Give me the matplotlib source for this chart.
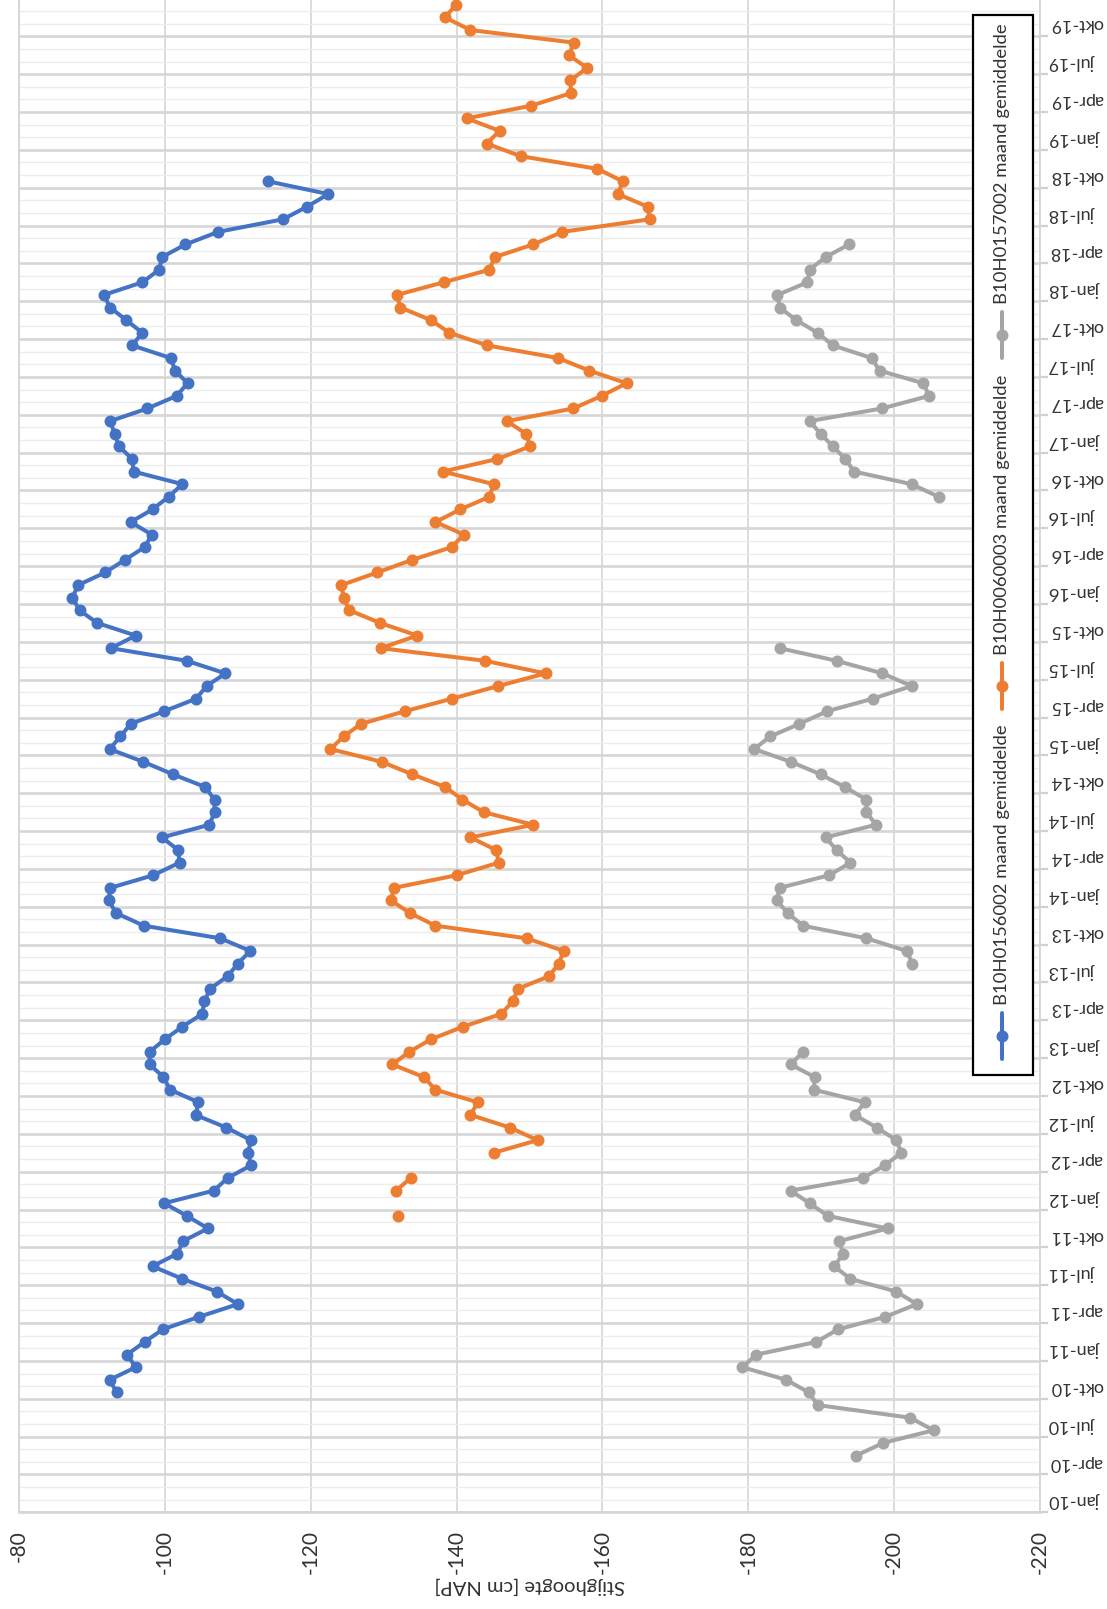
import numpy as np
import matplotlib
matplotlib.use("Agg")
import matplotlib.pyplot as plt
import matplotlib.transforms as mtransforms
from matplotlib.patches import Rectangle
from matplotlib.lines import Line2D

plt.rcParams['font.family'] = ['Lato', 'DejaVu Sans']

# ---------------- data ----------------
month_names = ['jan', 'feb', 'mrt', 'apr', 'mei', 'jun', 'jul', 'aug', 'sep', 'okt', 'nov', 'dec']
years = list(range(10, 20))
categories = [f"{m}-{y}" for y in years for m in month_names]   # jan-10 ... dec-19

value_ticks = [-80, -100, -120, -140, -160, -180, -200, -220]

series_names = ['B10H0156002 maand gemiddelde',
                'B10H0060003 maand gemiddelde',
                'B10H0157002 maand gemiddelde']
series_colors = ['#4472C4', '#ED7D31', '#A5A5A5']

# B10H0156002 : okt-10 .. okt-18
blue_start = 'okt-10'
blue_values = [
    -93.4, -92.4, -96.0, -94.8, -97.2, -99.7, -104.7, -110.0, -107.1, -102.4,
    -98.3, -101.7, -102.5, -105.9, -103.0, -99.9, -106.7, -108.6, -111.8, -111.4,
    -111.8, -108.4, -104.2, -104.6, -100.7, -99.8, -97.9, -97.9, -100.0, -102.4,
    -105.1, -105.4, -106.2, -108.6, -110.0, -111.7, -107.6, -97.1, -93.3, -92.3,
    -92.5, -98.4, -102.0, -101.8, -99.6, -106.1, -106.8, -106.8, -105.5, -101.1,
    -97.0, -92.4, -93.9, -95.3, -99.9, -104.3, -105.7, -108.3, -103.0, -92.6,
    -96.0, -90.7, -88.3, -87.3, -88.1, -91.8, -94.5, -97.2, -98.2, -95.3,
    -98.3, -100.5, -102.4, -95.7, -95.5, -93.7, -93.1, -92.5, -97.6, -101.6,
    -103.1, -101.4, -100.8, -95.5, -96.9, -94.7, -92.5, -91.6, -96.9, -99.2,
    -99.6, -102.8, -107.3, -116.2, -119.5, -122.4, -114.2]

# B10H0060003 : dec-11 .. dec-19 (None = no value)
orange_start = 'dec-11'
orange_values = [
    -131.9, None, -131.7, -133.7, None, -145.1, -151.1, -147.3, -141.9, -142.9,
    -137.1, -135.5, -131.2, -133.5, -136.5, -140.9, -146.1, -147.7, -148.4, -152.7,
    -154.0, -154.7, -149.6, -137.1, -133.6, -131.0, -131.4, -140.0, -145.8, -145.4,
    -141.9, -150.5, -143.7, -140.8, -138.4, -133.9, -129.7, -122.7, -124.5, -126.9,
    -132.9, -139.4, -145.7, -152.2, -143.9, -129.6, -134.6, -129.5, -125.3, -124.5,
    -124.2, -129.1, -133.9, -139.3, -141.0, -137.1, -140.5, -144.5, -145.1, -138.1,
    -145.6, -150.1, -149.5, -146.9, -156.0, -159.9, -163.3, -158.2, -153.9, -144.2,
    -139.0, -136.5, -132.3, -131.8, -138.2, -144.5, -145.2, -150.5, -154.5, -166.5,
    -166.2, -162.1, -162.8, -159.3, -148.8, -144.1, -145.9, -141.4, -150.2, -155.7,
    -155.6, -157.9, -155.4, -156.1, -141.9, -138.4, -139.9]

# B10H0157002 : mei-10 .. mei-18 (None = no value)
grey_start = 'mei-10'
grey_values = [
    -194.8, -198.5, -205.4, -202.2, -189.5, -188.3, -185.2, -179.2, -181.1, -189.3,
    -192.3, -198.8, -203.1, -200.3, -194.0, -191.8, -193.0, -192.5, -199.1, -190.9,
    -188.4, -185.8, -195.7, -198.7, -201.0, -200.3, -197.6, -194.6, -196.0, -189.0,
    -189.1, -185.8, -187.5, None, None, None, None, None, None, -202.5,
    -201.7, -196.2, -187.5, -185.4, -183.9, -184.3, -191.1, -194.0, -192.1, -190.6,
    -197.5, -196.2, -196.2, -193.2, -189.9, -185.8, -180.8, -183.0, -187.0, -190.8,
    -197.1, -202.4, -198.4, -192.1, -184.3, None, None, None, None, None,
    None, None, None, None, None, None, -206.1, -202.4, -194.5, -193.3,
    -191.6, -189.9, -188.4, -198.3, -204.8, -204.0, -198.0, -196.9, -191.6, -189.5,
    -186.6, -184.3, -184.0, -188.1, -188.4, -190.6, -193.8]

series = [(blue_start, blue_values), (orange_start, orange_values), (grey_start, grey_values)]

# ---------------- figure ----------------
W, H = 1107, 1609
fig = plt.figure(figsize=(W / 100, H / 100), dpi=100)
fig.patch.set_facecolor('white')

x_left, x_right, y_bottom = 19.1, 1040.0, 1512.3
ax = fig.add_axes([x_left / W, (H - y_bottom) / H, (x_right - x_left) / W, y_bottom / H])

n = len(categories)
for (start, vals), color in zip(series, series_colors):
    i0 = categories.index(start)
    idx = np.arange(i0, i0 + len(vals))
    v = np.array([np.nan if x is None else x for x in vals], dtype=float)
    ax.plot(v, idx, color=color, lw=2.9, marker='o', ms=7.6, mfc=color, mec=color,
            solid_capstyle='round', solid_joinstyle='round', zorder=3)

# value axis (horizontal in the picture)
ax.set_xticks(value_ticks)
ax.set_xticklabels([str(v) for v in value_ticks], rotation=90)
ax.tick_params(axis='x', length=0, pad=13, labelsize=15, labelcolor='#333333')
ax.grid(axis='x', which='major', color='#D9D9D9', lw=1.3)

# category axis (vertical in the picture)
ax.yaxis.tick_right()
ax.set_yticks(np.arange(-0.5, n + 3, 3))
ax.set_yticks(np.arange(-0.5, n + 1, 1), minor=True)
ax.tick_params(axis='y', which='major', length=6, width=1.6, color='#D0D0D0',
               labelright=False, labelleft=False, right=True, left=False)
ax.tick_params(axis='y', which='minor', length=0, labelright=False, labelleft=False)
ax.grid(axis='y', which='major', color='#D6D6D6', lw=1.9)
ax.grid(axis='y', which='minor', color='#EDEDED', lw=1.0)
ax.set_axisbelow(True)

ax.set_xlim(-80, -220)
ax.set_ylim(-0.5, y_bottom / 12.615 - 0.5)

for s in ['left', 'right', 'bottom']:
    ax.spines[s].set_color('#D6D6D6')
ax.spines['bottom'].set_linewidth(1.9)
ax.spines['left'].set_linewidth(1.3)
ax.spines['right'].set_linewidth(1.3)
ax.spines['top'].set_visible(False)

sec = ax.secondary_yaxis('right')
label_pos = list(range(0, n, 3))
sec.set_yticks(label_pos, labels=[categories[i] for i in label_pos])
sec.tick_params(length=0, pad=7, labelsize=13, labelrotation=180, labelcolor='#333333')
sec.spines['right'].set_visible(False)
shift_up = mtransforms.ScaledTranslation(0, 4 / 72, fig.dpi_scale_trans)
for t in sec.get_yticklabels():
    t.set_va('center')
    t.set_ha('left')
    t.set_transform(t.get_transform() + shift_up)

ax.set_xlabel('Stijghoogte [cm NAP]', rotation=180, fontsize=14.5, color='#333333')
ax.xaxis.set_label_coords(0.5, -(1586 - y_bottom) / y_bottom)
ax.xaxis.label.set_va('center')

# ---------------- legend (rotated) ----------------
lx0, lx1, ly0, ly1 = 973, 1033, 15, 1075
fig.add_artist(Rectangle((lx0 / W, 1 - ly1 / H), (lx1 - lx0) / W, (ly1 - ly0) / H,
                         transform=fig.transFigure, facecolor='white',
                         edgecolor='black', lw=1.6, zorder=5))
cx = 1002
marker_y = [1036, 686, 335]
for name, color, my in zip(series_names, series_colors, marker_y):
    fig.add_artist(Line2D([cx / W, cx / W], [1 - (my + 23) / H, 1 - (my - 23) / H],
                          transform=fig.transFigure, color=color, lw=2.9,
                          solid_capstyle='round', zorder=6))
    fig.add_artist(Line2D([cx / W], [1 - my / H], transform=fig.transFigure,
                          marker='o', ms=7.6, color=color, zorder=7))
    fig.text(cx / W, 1 - (my - 31) / H, name, rotation=90, ha='center', va='bottom',
             fontsize=13.3, color='#333333', zorder=7)

fig.savefig('out.png', dpi=100)
